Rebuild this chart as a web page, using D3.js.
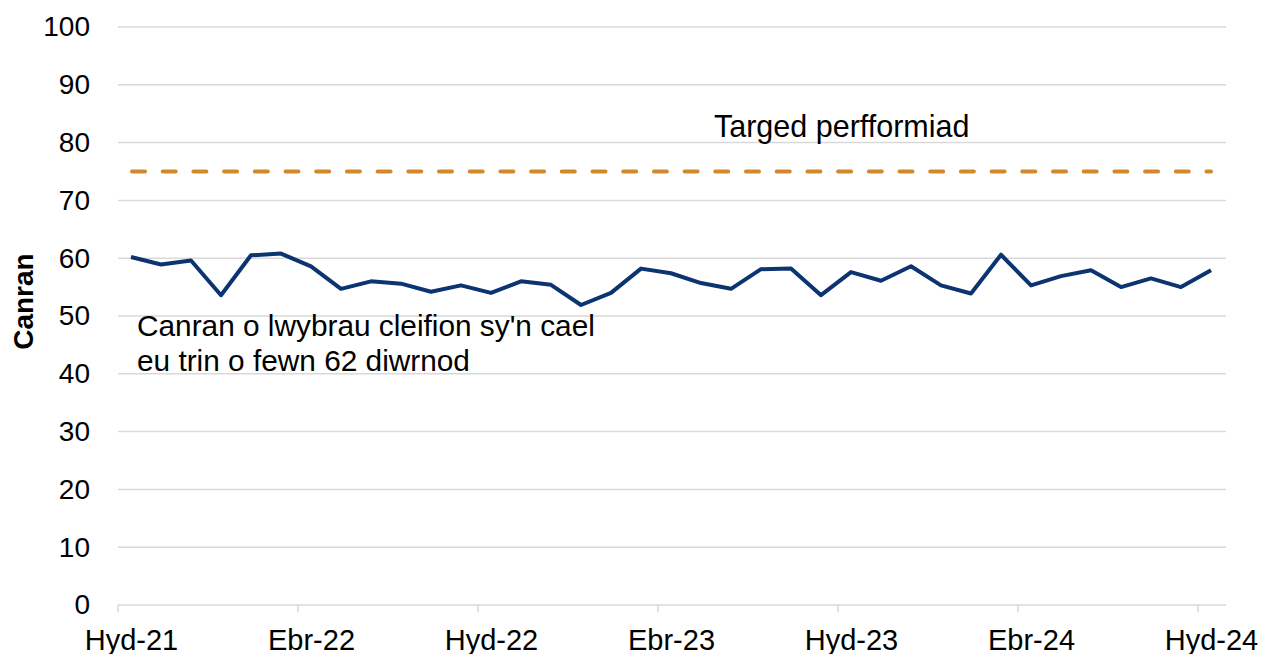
<!DOCTYPE html>
<html>
<head>
<meta charset="utf-8">
<script src="https://cdn.jsdelivr.net/npm/d3@7"></script>
<style>
  body { margin: 0; background: #fff; overflow: hidden; }
  svg { display: block; font-family: "Liberation Sans", Arial, sans-serif; }
</style>
</head>
<body>
<div id="chart"></div>
<script>
// months Oct-21 .. Oct-24
var months = ["Hyd-21","Tach-21","Rhag-21","Ion-22","Chwef-22","Maw-22","Ebr-22","Mai-22","Meh-22","Gorff-22","Awst-22","Medi-22",
              "Hyd-22","Tach-22","Rhag-22","Ion-23","Chwef-23","Maw-23","Ebr-23","Mai-23","Meh-23","Gorff-23","Awst-23","Medi-23",
              "Hyd-23","Tach-23","Rhag-23","Ion-24","Chwef-24","Maw-24","Ebr-24","Mai-24","Meh-24","Gorff-24","Awst-24","Medi-24",
              "Hyd-24"];
var canran = [60.2, 58.9, 59.6, 53.6, 60.5, 60.8, 58.6, 54.7, 56.0, 55.6, 54.2, 55.3,
              54.0, 56.0, 55.4, 51.9, 54.0, 58.2, 57.4, 55.7, 54.7, 58.1, 58.2, 53.6,
              57.6, 56.1, 58.6, 55.3, 53.9, 60.6, 55.3, 56.9, 57.9, 55.0, 56.5, 55.0,
              57.9];
var target = 75;
var yTicks = [0, 10, 20, 30, 40, 50, 60, 70, 80, 90, 100];
var xTickLabels = ["Hyd-21", "Ebr-22", "Hyd-22", "Ebr-23", "Hyd-23", "Ebr-24", "Hyd-24"];

var width = 1261, height = 654;
var margin = {left: 118, right: 35, top: 27, bottom: 49};

var svg = d3.select("#chart").append("svg")
    .attr("width", width)
    .attr("height", height);

var x = d3.scaleBand()
    .domain(months)
    .range([margin.left - 2, width - margin.right]);

var y = d3.scaleLinear()
    .domain([0, 100])
    .range([height - margin.bottom, margin.top]);

var cx = function(m) { return x(m) + x.bandwidth() / 2; };

// gridlines
svg.append("g")
    .selectAll("line")
    .data(yTicks.slice(1))
    .enter().append("line")
    .attr("x1", margin.left)
    .attr("x2", width - margin.right)
    .attr("y1", function(d) { return y(d); })
    .attr("y2", function(d) { return y(d); })
    .attr("stroke", "#d9d9d9")
    .attr("stroke-width", 1.5);

// y axis labels
var yAxis = d3.axisLeft(y).tickValues(yTicks).tickSize(0).tickPadding(28);
svg.append("g")
    .attr("transform", "translate(" + margin.left + ",0)")
    .call(yAxis)
    .call(function(g) { g.select(".domain").remove(); })
    .attr("font-size", 28)
    .attr("font-family", "Liberation Sans, Arial, sans-serif")
    .selectAll("text")
    .attr("fill", "#000");

// x axis line + ticks
svg.append("line")
    .attr("x1", margin.left)
    .attr("x2", width - margin.right)
    .attr("y1", y(0))
    .attr("y2", y(0))
    .attr("stroke", "#d9d9d9")
    .attr("stroke-width", 1.5);

var tickMonths = months.filter(function(m, i) { return i % 6 === 0; });
svg.append("g")
    .selectAll("line")
    .data(tickMonths)
    .enter().append("line")
    .attr("x1", function(d) { return x(d) + 2; })
    .attr("x2", function(d) { return x(d) + 2; })
    .attr("y1", y(0))
    .attr("y2", y(0) + 7)
    .attr("stroke", "#d9d9d9")
    .attr("stroke-width", 1.5);

svg.append("g")
    .selectAll("text")
    .data(tickMonths)
    .enter().append("text")
    .attr("x", function(d) { return cx(d) + 0.5; })
    .attr("y", y(0) + 45)
    .attr("text-anchor", "middle")
    .attr("font-size", 29)
    .attr("fill", "#000")
    .text(function(d, i) { return xTickLabels[i]; });

// axis title
svg.append("text")
    .attr("transform", "translate(33," + y(52.5) + ") rotate(-90)")
    .attr("text-anchor", "middle")
    .attr("font-size", 28)
    .attr("font-weight", "bold")
    .attr("fill", "#000")
    .text("Canran");

// target line
svg.append("line")
    .attr("x1", cx(months[0]) + 1)
    .attr("x2", cx(months[months.length - 1]))
    .attr("y1", y(target))
    .attr("y2", y(target))
    .attr("stroke", "#d08a2c")
    .attr("stroke-width", 4)
    .attr("stroke-linecap", "round")
    .attr("stroke-dasharray", "13,17.7");

// data line
var line = d3.line()
    .x(function(d, i) { return cx(months[i]); })
    .y(function(d) { return y(d); });

svg.append("path")
    .datum(canran)
    .attr("d", line)
    .attr("fill", "none")
    .attr("stroke", "#0b3470")
    .attr("stroke-width", 4)
    .attr("stroke-linejoin", "round");

// labels
svg.append("text")
    .attr("x", 714)
    .attr("y", 137)
    .attr("font-size", 30.5)
    .attr("fill", "#000")
    .text("Targed perfformiad");

var lbl = svg.append("text")
    .attr("x", 137)
    .attr("y", 336)
    .attr("font-size", 29.8)
    .attr("fill", "#000");
lbl.append("tspan").attr("x", 137).text("Canran o lwybrau cleifion sy'n cael");
lbl.append("tspan").attr("x", 137).attr("dy", 35).text("eu trin o fewn 62 diwrnod");
</script>
</body>
</html>
